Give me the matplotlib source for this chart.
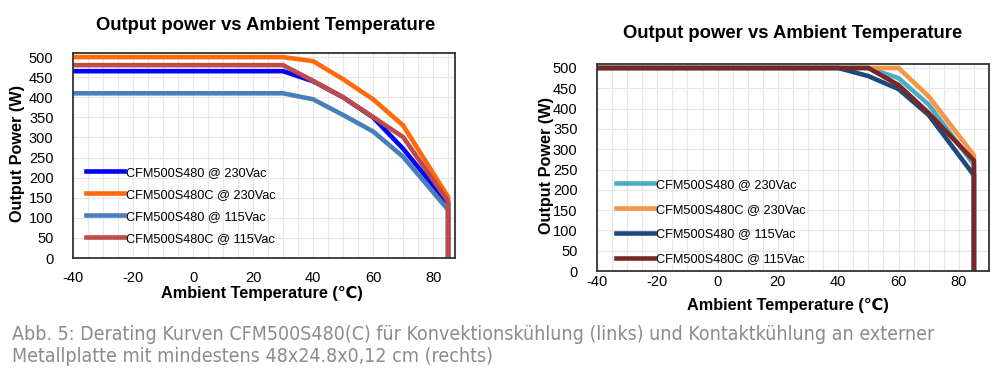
import numpy as np
import matplotlib
matplotlib.use('Agg')
import matplotlib.pyplot as plt
from matplotlib.ticker import MultipleLocator

plt.rcParams['font.family'] = ['Liberation Sans', 'DejaVu Sans']
plt.rcParams['axes.unicode_minus'] = False

# data
LABELS = ['CFM500S480 @ 230Vac', 'CFM500S480C @ 230Vac',
          'CFM500S480 @ 115Vac', 'CFM500S480C @ 115Vac']

# left chart: convection cooling
temp_l = [-40, 30, 40, 50, 60, 70, 85, 85]
s480_230_l = [465, 465, 440, 400, 350, 272, 135, 0]
s480c_230_l = [500, 500, 490, 445, 395, 330, 152, 0]
s480_115_l = [410, 410, 395, 356, 315, 252, 120, 0]
s480c_115_l = [480, 480, 441, 400, 351, 301, 141, 0]

# right chart: contact cooling
temp_r = [-40, 40, 50, 60, 70, 85, 85]
s480_230_r = [500, 500, 500, 475, 410, 262, 0]
s480c_230_r = [500, 500, 500, 500, 430, 285, 0]
s480_115_r = [500, 500, 480, 448, 384, 236, 0]
s480c_115_r = [500, 500, 500, 458, 389, 272, 0]

COLORS_L = ['#0000FF', '#FF6A0D', '#4A7EBB', '#BE4B48']
COLORS_R = ['#4BACC6', '#F79646', '#1F497D', '#772826']

CAPTION = ['Abb. 5: Derating Kurven CFM500S480(C) für Konvektionskühlung (links) und Kontaktkühlung an externer',
           'Metallplatte mit mindestens 48x24.8x0,12 cm (rechts)']

fig = plt.figure(figsize=(10, 3.76), dpi=100)


def make_panel(rect, temp, series, colors, xmax, xpad, legend_x, legend_y, legend_gap):
    ax = fig.add_axes(rect)
    for ys, c, lab in zip(series, colors, LABELS):
        ax.plot(temp, ys, color=c, lw=3.3, label=lab, solid_joinstyle='miter')
    ax.set_xlim(-40, xmax)
    ax.set_ylim(0, 510)
    ax.set_xticks(np.arange(-40, 81, 20))
    ax.set_yticks(np.arange(0, 501, 50))
    ax.xaxis.set_minor_locator(MultipleLocator(5))
    ax.grid(which='both', color='#e6e6e6', lw=0.8)
    ax.set_axisbelow(True)
    ax.tick_params(which='both', length=0, labelsize=10.5)
    ax.tick_params(axis='y', pad=14)
    ax.tick_params(axis='x', pad=xpad)
    for sp in ax.spines.values():
        sp.set_color('#333333')
        sp.set_linewidth(1.3)
    ax.legend(loc='upper left', bbox_to_anchor=(legend_x, legend_y), frameon=False,
              fontsize=9.2, handlelength=3.0, handletextpad=0.15,
              labelspacing=legend_gap, borderaxespad=0)
    return ax


make_panel([0.073, 0.3138, 0.382, 0.545], temp_l,
           [s480_230_l, s480c_230_l, s480_115_l, s480c_115_l],
           COLORS_L, 87.3, 9, 0.02, 0.47, 0.78)
make_panel([0.597, 0.279, 0.392, 0.551], temp_r,
           [s480_230_r, s480c_230_r, s480_115_r, s480c_115_r],
           COLORS_R, 90, 2.5, 0.035, 0.47, 1.0)

# titles and axis labels
fig.text(0.266, 1 - 26 / 376, 'Output power vs Ambient Temperature', ha='center', va='center',
         fontsize=13.3, fontweight='bold')
fig.text(0.793, 1 - 34 / 376, 'Output power vs Ambient Temperature', ha='center', va='center',
         fontsize=13.3, fontweight='bold')
fig.text(0.262, 1 - 293 / 376, 'Ambient Temperature (℃)', ha='center', va='center',
         fontsize=11.7, fontweight='bold')
fig.text(0.788, 1 - 305 / 376, 'Ambient Temperature (℃)', ha='center', va='center',
         fontsize=11.7, fontweight='bold')
fig.text(0.018, 1 - 154 / 376, 'Output Power (W)', ha='center', va='center', rotation=90,
         fontsize=11.7, fontweight='bold')
fig.text(0.547, 1 - 165 / 376, 'Output Power (W)', ha='center', va='center', rotation=90,
         fontsize=11.7, fontweight='bold')

# caption, condensed font if there is one; size fitted to the reference line width
cap = []
for line, y in zip(CAPTION, [335, 356]):
    cap.append(fig.text(0.012, 1 - y / 376, line, ha='left', va='center', fontsize=14,
                        color='#8c8c8c', family=['DejaVu Sans'], fontstretch='condensed'))
fig.canvas.draw()
w = cap[0].get_window_extent().width
for t in cap:
    t.set_fontsize(min(14, 14 * 930 / w))

fig.savefig('out.png', dpi=100)
